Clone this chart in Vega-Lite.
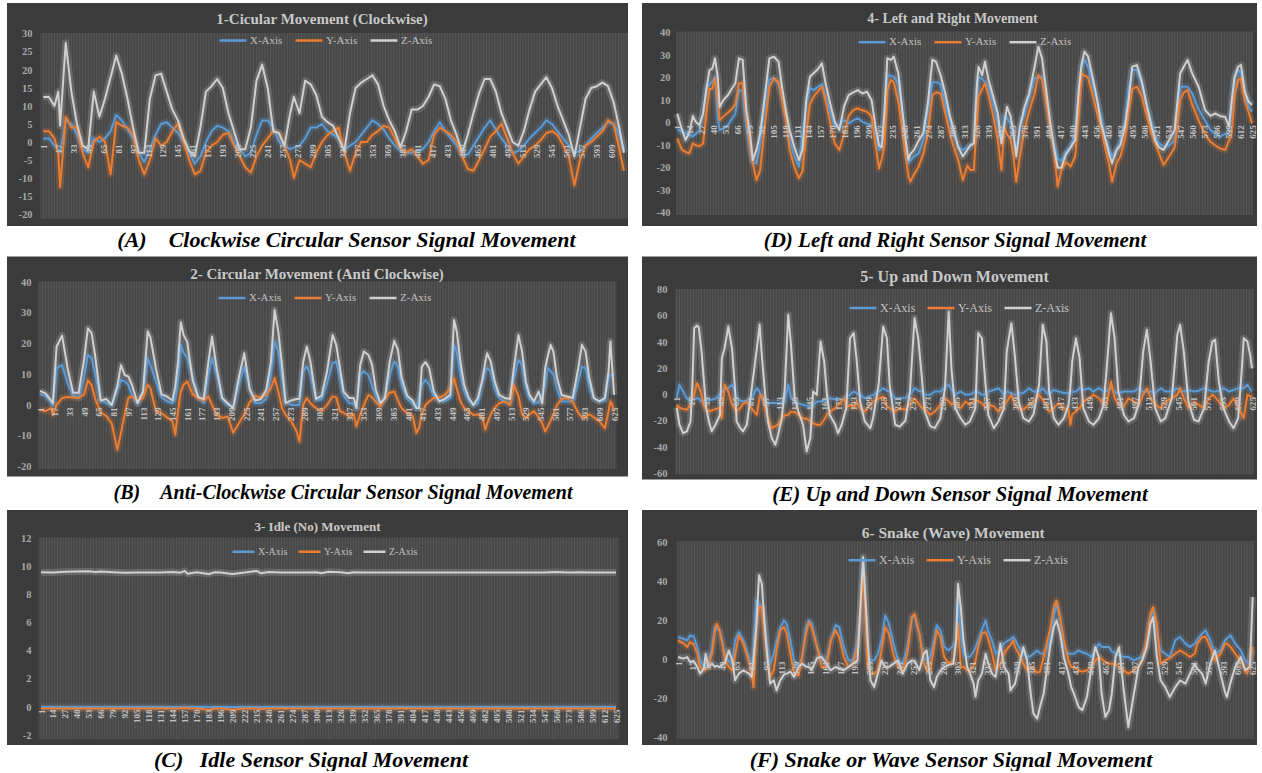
{
"$schema": "https://vega.github.io/schema/vega-lite/v6.json",
"background": "white",
"padding": {"left": 7, "top": 3, "right": 0, "bottom": 0},
"spacing": 5.5,
"resolve": {"scale": {"color": "independent"}, "legend": {"color": "independent"}},
"config": {
 "view": {"stroke": null, "fill": "#3b3b3b"},
 "font": "Liberation Serif",
 "title": {"font": "Liberation Serif", "fontSize": 21, "fontStyle": "italic", "fontWeight": "bold", "color": "#000000", "orient": "bottom", "anchor": "middle", "baseline": "top"},
 "axisX": {"labelAngle": 270, "labelFont": "Liberation Serif", "labelFontSize": 9, "labelFontWeight": "bold", "labelColor": "#c4c4c4", "labelPadding": 2, "labelFlush": false, "labelBound": false, "ticks": false, "domain": false, "grid": false, "titleFont": "Liberation Serif", "titleFontWeight": "bold", "titleColor": "#c8c8c8", "titleAlign": "center", "titleBaseline": "middle", "titleFontSize": 15},
 "axisY": {"labelFont": "Liberation Serif", "labelFontSize": 10.5, "labelFontWeight": "bold", "labelColor": "#a8a8a8", "labelPadding": 4, "ticks": false, "domain": false, "grid": false, "labelExpr": "toString(datum.value)"},
 "legend": {"orient": "none", "direction": "horizontal", "symbolType": "stroke", "symbolSize": 729, "symbolStrokeWidth": 2.5, "symbolOpacity": 1, "labelFont": "Liberation Serif", "labelFontSize": 11, "labelColor": "#c0c0c0", "labelOffset": 2, "columnPadding": 7}
},
"datasets": {
"grid": [{"t":1},{"t":4},{"t":7},{"t":10},{"t":13},{"t":16},{"t":19},{"t":22},{"t":25},{"t":28},{"t":31},{"t":34},{"t":37},{"t":40},{"t":43},{"t":46},{"t":49},{"t":52},{"t":55},{"t":58},{"t":61},{"t":64},{"t":67},{"t":70},{"t":73},{"t":76},{"t":79},{"t":82},{"t":85},{"t":88},{"t":91},{"t":94},{"t":97},{"t":100},{"t":103},{"t":106},{"t":109},{"t":112},{"t":115},{"t":118},{"t":121},{"t":124},{"t":127},{"t":130},{"t":133},{"t":136},{"t":139},{"t":142},{"t":145},{"t":148},{"t":151},{"t":154},{"t":157},{"t":160},{"t":163},{"t":166},{"t":169},{"t":172},{"t":175},{"t":178},{"t":181},{"t":184},{"t":187},{"t":190},{"t":193},{"t":196},{"t":199},{"t":202},{"t":205},{"t":208},{"t":211},{"t":214},{"t":217},{"t":220},{"t":223},{"t":226},{"t":229},{"t":232},{"t":235},{"t":238},{"t":241},{"t":244},{"t":247},{"t":250},{"t":253},{"t":256},{"t":259},{"t":262},{"t":265},{"t":268},{"t":271},{"t":274},{"t":277},{"t":280},{"t":283},{"t":286},{"t":289},{"t":292},{"t":295},{"t":298},{"t":301},{"t":304},{"t":307},{"t":310},{"t":313},{"t":316},{"t":319},{"t":322},{"t":325},{"t":328},{"t":331},{"t":334},{"t":337},{"t":340},{"t":343},{"t":346},{"t":349},{"t":352},{"t":355},{"t":358},{"t":361},{"t":364},{"t":367},{"t":370},{"t":373},{"t":376},{"t":379},{"t":382},{"t":385},{"t":388},{"t":391},{"t":394},{"t":397},{"t":400},{"t":403},{"t":406},{"t":409},{"t":412},{"t":415},{"t":418},{"t":421},{"t":424},{"t":427},{"t":430},{"t":433},{"t":436},{"t":439},{"t":442},{"t":445},{"t":448},{"t":451},{"t":454},{"t":457},{"t":460},{"t":463},{"t":466},{"t":469},{"t":472},{"t":475},{"t":478},{"t":481},{"t":484},{"t":487},{"t":490},{"t":493},{"t":496},{"t":499},{"t":502},{"t":505},{"t":508},{"t":511},{"t":514},{"t":517},{"t":520},{"t":523},{"t":526},{"t":529},{"t":532},{"t":535},{"t":538},{"t":541},{"t":544},{"t":547},{"t":550},{"t":553},{"t":556},{"t":559},{"t":562},{"t":565},{"t":568},{"t":571},{"t":574},{"t":577},{"t":580},{"t":583},{"t":586},{"t":589},{"t":592},{"t":595},{"t":598},{"t":601},{"t":604},{"t":607},{"t":610},{"t":613},{"t":616},{"t":619},{"t":622},{"t":625}],
"A": [{"t":1,"X":1,"Y":3,"Z":12.5},{"t":7,"X":1,"Y":3,"Z":12.5},{"t":13,"X":-1,"Y":1,"Z":10},{"t":17,"X":-2,"Y":-3,"Z":14},{"t":19,"X":-3,"Y":-12.5,"Z":4.5},{"t":25,"X":6,"Y":7,"Z":27.5},{"t":31,"X":5,"Y":4,"Z":14},{"t":37,"X":2,"Y":4,"Z":5},{"t":43,"X":-2,"Y":-3,"Z":-1},{"t":49,"X":-3,"Y":-7,"Z":-2},{"t":55,"X":1,"Y":0,"Z":14},{"t":61,"X":0,"Y":1.5,"Z":7},{"t":67,"X":1,"Y":0,"Z":12},{"t":73,"X":3,"Y":-9,"Z":18},{"t":79,"X":7.5,"Y":5.5,"Z":24},{"t":85,"X":6,"Y":4.5,"Z":19},{"t":91,"X":3.5,"Y":4,"Z":12},{"t":97,"X":1,"Y":2,"Z":4},{"t":103,"X":-3,"Y":-5,"Z":-3},{"t":109,"X":-5.5,"Y":-9,"Z":-3},{"t":115,"X":-2,"Y":-5,"Z":12},{"t":121,"X":2,"Y":1,"Z":18.5},{"t":127,"X":5,"Y":-1,"Z":19},{"t":133,"X":5.5,"Y":0,"Z":14},{"t":139,"X":4,"Y":3,"Z":9},{"t":145,"X":2.5,"Y":5,"Z":6},{"t":151,"X":0,"Y":0,"Z":1},{"t":157,"X":-3,"Y":-5,"Z":-2.5},{"t":163,"X":-6,"Y":-9,"Z":-4},{"t":169,"X":-4,"Y":-8,"Z":4},{"t":175,"X":0,"Y":-3,"Z":14},{"t":181,"X":3,"Y":-1,"Z":15.5},{"t":187,"X":4.5,"Y":0,"Z":17.5},{"t":193,"X":4,"Y":2,"Z":15},{"t":199,"X":3,"Y":2.5,"Z":8},{"t":205,"X":0,"Y":-1,"Z":3},{"t":211,"X":-2,"Y":-4,"Z":-2},{"t":217,"X":-4,"Y":-7,"Z":-2},{"t":223,"X":-3,"Y":-8.5,"Z":4},{"t":229,"X":2,"Y":-4,"Z":17},{"t":235,"X":6,"Y":-1,"Z":21.5},{"t":241,"X":6,"Y":1,"Z":15},{"t":247,"X":4,"Y":3,"Z":3},{"t":253,"X":0,"Y":2.5,"Z":2.5},{"t":259,"X":-1,"Y":-1,"Z":-1},{"t":265,"X":-2,"Y":-5,"Z":8},{"t":269,"X":-1.5,"Y":-10,"Z":12.5},{"t":275,"X":-1,"Y":-5,"Z":8},{"t":281,"X":1,"Y":-6,"Z":17},{"t":287,"X":4,"Y":-7,"Z":16},{"t":293,"X":4,"Y":-3,"Z":13},{"t":299,"X":5,"Y":0,"Z":7},{"t":305,"X":3,"Y":2,"Z":5.5},{"t":311,"X":2,"Y":3,"Z":4.5},{"t":317,"X":1,"Y":4,"Z":1},{"t":323,"X":-2,"Y":-3,"Z":-2.5},{"t":329,"X":-1,"Y":-8,"Z":8},{"t":335,"X":0,"Y":-3,"Z":15},{"t":341,"X":2,"Y":0,"Z":16.5},{"t":347,"X":4,"Y":0,"Z":17.5},{"t":353,"X":6,"Y":2,"Z":18.5},{"t":359,"X":5,"Y":3,"Z":16},{"t":365,"X":3.5,"Y":4.5,"Z":10},{"t":371,"X":1,"Y":4,"Z":6},{"t":377,"X":-1,"Y":1,"Z":3},{"t":383,"X":-2.5,"Y":-2,"Z":-1.5},{"t":389,"X":-3,"Y":-3,"Z":3},{"t":395,"X":-3,"Y":-2,"Z":9},{"t":401,"X":-2.5,"Y":-4,"Z":9},{"t":407,"X":-2,"Y":-6,"Z":10},{"t":413,"X":0,"Y":-5,"Z":12.5},{"t":419,"X":3,"Y":2,"Z":16},{"t":425,"X":5.5,"Y":4,"Z":15.5},{"t":431,"X":3,"Y":3,"Z":12},{"t":437,"X":1,"Y":2,"Z":6},{"t":443,"X":-1,"Y":0,"Z":2},{"t":449,"X":-3.5,"Y":-4,"Z":-3},{"t":455,"X":-3.5,"Y":-7.5,"Z":2},{"t":461,"X":-1,"Y":-8,"Z":8},{"t":467,"X":1.5,"Y":-5,"Z":13.5},{"t":473,"X":4,"Y":-2,"Z":17.5},{"t":479,"X":6,"Y":1.5,"Z":17.5},{"t":485,"X":3.5,"Y":3,"Z":14},{"t":491,"X":1,"Y":5,"Z":8},{"t":497,"X":-1,"Y":1,"Z":4},{"t":503,"X":-3,"Y":-3,"Z":0},{"t":509,"X":-2.5,"Y":-6,"Z":-1},{"t":515,"X":-1,"Y":-4,"Z":3},{"t":521,"X":1,"Y":-2,"Z":9},{"t":527,"X":2.5,"Y":-1,"Z":14},{"t":533,"X":4,"Y":0.5,"Z":16},{"t":539,"X":6,"Y":2.5,"Z":18},{"t":545,"X":5,"Y":3,"Z":15},{"t":551,"X":3,"Y":2,"Z":10},{"t":557,"X":1,"Y":-1,"Z":6},{"t":563,"X":-1,"Y":-4,"Z":2},{"t":569,"X":-3,"Y":-12,"Z":-4},{"t":575,"X":-2.5,"Y":-5,"Z":4},{"t":581,"X":-1,"Y":-1,"Z":12},{"t":587,"X":1,"Y":0,"Z":15},{"t":593,"X":2.5,"Y":1.5,"Z":15.5},{"t":599,"X":4,"Y":3,"Z":16.5},{"t":605,"X":5.5,"Y":6,"Z":15.5},{"t":611,"X":5,"Y":5,"Z":11},{"t":617,"X":2,"Y":-2,"Z":4},{"t":622,"X":-2,"Y":-8,"Z":-3}],
"B": [{"t":1,"X":3.5,"Y":-1.5,"Z":4.6},{"t":7,"X":3,"Y":-2,"Z":3.8},{"t":13,"X":1,"Y":-1,"Z":1.5},{"t":15,"X":0,"Y":-3.2,"Z":0.6},{"t":19,"X":12,"Y":0,"Z":19},{"t":25,"X":13,"Y":2.3,"Z":22.6},{"t":31,"X":7,"Y":2.6,"Z":12},{"t":37,"X":3,"Y":2.5,"Z":4},{"t":43,"X":2.3,"Y":2.3,"Z":4},{"t":49,"X":9,"Y":3.5,"Z":15},{"t":53,"X":16.3,"Y":8,"Z":25},{"t":57,"X":15.3,"Y":6.6,"Z":23.5},{"t":61,"X":10,"Y":2,"Z":16},{"t":67,"X":1.5,"Y":-2.5,"Z":1.5},{"t":73,"X":0.6,"Y":-3.5,"Z":2},{"t":79,"X":0,"Y":-6,"Z":0},{"t":85,"X":5,"Y":-14.6,"Z":6},{"t":89,"X":8.2,"Y":-9,"Z":13},{"t":93,"X":7.7,"Y":-3,"Z":9.8},{"t":97,"X":6.5,"Y":2.3,"Z":9.3},{"t":101,"X":3,"Y":2.8,"Z":6.6},{"t":107,"X":0.5,"Y":1.5,"Z":0.6},{"t":113,"X":4,"Y":2.3,"Z":4.4},{"t":118,"X":15.3,"Y":6.6,"Z":24},{"t":121,"X":13,"Y":5.5,"Z":22},{"t":127,"X":7.7,"Y":-2,"Z":12},{"t":133,"X":2.5,"Y":-2.6,"Z":3.5},{"t":139,"X":1.2,"Y":-4,"Z":2.8},{"t":145,"X":0.5,"Y":-5.3,"Z":1.5},{"t":148,"X":2,"Y":-9.7,"Z":6},{"t":151,"X":8,"Y":-2,"Z":14},{"t":154,"X":19.6,"Y":4.4,"Z":27},{"t":157,"X":17,"Y":6.6,"Z":22.8},{"t":161,"X":15.3,"Y":7.7,"Z":20.6},{"t":167,"X":9,"Y":3.5,"Z":8},{"t":173,"X":3,"Y":2.3,"Z":2.5},{"t":179,"X":0.6,"Y":1.5,"Z":2},{"t":184,"X":9.8,"Y":2.8,"Z":14},{"t":188,"X":15.3,"Y":0,"Z":22.3},{"t":193,"X":10,"Y":-3.2,"Z":12},{"t":199,"X":2,"Y":-4.2,"Z":2.3},{"t":205,"X":0,"Y":-3.7,"Z":0.6},{"t":211,"X":-0.5,"Y":-9,"Z":-1},{"t":217,"X":6.6,"Y":-6,"Z":8.8},{"t":223,"X":12.5,"Y":-3,"Z":16.9},{"t":229,"X":5.5,"Y":1,"Z":5},{"t":235,"X":0.6,"Y":3,"Z":1.5},{"t":241,"X":0.6,"Y":2.5,"Z":2},{"t":247,"X":2,"Y":3.3,"Z":5},{"t":252,"X":9.8,"Y":5.5,"Z":14},{"t":256,"X":20.7,"Y":8.8,"Z":31},{"t":260,"X":17.4,"Y":4.4,"Z":24},{"t":264,"X":8.8,"Y":-1,"Z":13},{"t":268,"X":1.2,"Y":-3.2,"Z":0.6},{"t":274,"X":0,"Y":-5.3,"Z":1.5},{"t":280,"X":0,"Y":-8.6,"Z":2},{"t":283,"X":0,"Y":-11.9,"Z":2},{"t":287,"X":11,"Y":0,"Z":14},{"t":291,"X":12.5,"Y":2.3,"Z":19},{"t":295,"X":9.8,"Y":0.6,"Z":14},{"t":301,"X":1.7,"Y":-1,"Z":2},{"t":307,"X":1.7,"Y":-2,"Z":3},{"t":313,"X":7,"Y":0,"Z":11},{"t":319,"X":13.6,"Y":2.8,"Z":22.8},{"t":323,"X":14.2,"Y":2.5,"Z":19.6},{"t":327,"X":9,"Y":-2,"Z":12},{"t":331,"X":3,"Y":-2.5,"Z":4.4},{"t":337,"X":0.6,"Y":-3.7,"Z":2.3},{"t":342,"X":0.5,"Y":-3,"Z":2.3},{"t":345,"X":-1,"Y":-7,"Z":-1},{"t":349,"X":9.8,"Y":-3,"Z":13},{"t":353,"X":11,"Y":0,"Z":17.4},{"t":358,"X":9.8,"Y":3.3,"Z":16.3},{"t":362,"X":6,"Y":2.5,"Z":13},{"t":366,"X":3,"Y":1,"Z":5},{"t":371,"X":0,"Y":-0.5,"Z":0.6},{"t":376,"X":3,"Y":2.3,"Z":2.3},{"t":381,"X":9.8,"Y":4,"Z":14},{"t":386,"X":14.2,"Y":4.4,"Z":20.9},{"t":390,"X":12.5,"Y":1.5,"Z":18},{"t":394,"X":6.6,"Y":-1,"Z":9},{"t":400,"X":2,"Y":-2.6,"Z":3},{"t":406,"X":0.5,"Y":-3.5,"Z":1.5},{"t":410,"X":-1,"Y":-9.1,"Z":-1},{"t":413,"X":3,"Y":-7.5,"Z":-1},{"t":416,"X":6.6,"Y":-3,"Z":12.5},{"t":420,"X":8.2,"Y":0,"Z":14},{"t":424,"X":6.6,"Y":1.2,"Z":12},{"t":429,"X":3,"Y":2.3,"Z":4.4},{"t":435,"X":1.5,"Y":2.5,"Z":1.2},{"t":441,"X":1.2,"Y":3.3,"Z":2},{"t":447,"X":2.3,"Y":5.5,"Z":3.3},{"t":451,"X":19.6,"Y":8.8,"Z":27.7},{"t":454,"X":17.4,"Y":5.5,"Z":24},{"t":458,"X":9.8,"Y":1.2,"Z":14},{"t":462,"X":4.5,"Y":-1,"Z":6.6},{"t":467,"X":1.5,"Y":-2,"Z":2.3},{"t":472,"X":0,"Y":-3.2,"Z":0},{"t":477,"X":0.6,"Y":-3,"Z":2.3},{"t":482,"X":7.7,"Y":-4.2,"Z":8.5},{"t":485,"X":11,"Y":-8,"Z":14},{"t":487,"X":12,"Y":-6,"Z":16.9},{"t":491,"X":11,"Y":-3,"Z":14},{"t":495,"X":5.5,"Y":-1,"Z":8},{"t":500,"X":2.3,"Y":0.6,"Z":3.3},{"t":506,"X":1,"Y":1.2,"Z":2.3},{"t":512,"X":0.6,"Y":0,"Z":2},{"t":516,"X":8.8,"Y":6.6,"Z":12},{"t":521,"X":14.7,"Y":3,"Z":22.8},{"t":525,"X":13,"Y":-3,"Z":17.4},{"t":529,"X":6,"Y":-4.2,"Z":7.7},{"t":533,"X":2,"Y":-3,"Z":3.3},{"t":538,"X":0.6,"Y":-2,"Z":1.2},{"t":543,"X":0.8,"Y":-4,"Z":4.4},{"t":547,"X":4,"Y":-6,"Z":0.5},{"t":550,"X":6.6,"Y":-8.6,"Z":12},{"t":553,"X":12,"Y":-7,"Z":16},{"t":556,"X":11,"Y":-5,"Z":19.6},{"t":559,"X":10,"Y":-3,"Z":17.4},{"t":563,"X":5,"Y":0,"Z":8.8},{"t":568,"X":1.2,"Y":2,"Z":3.3},{"t":574,"X":1.2,"Y":2.3,"Z":2.8},{"t":580,"X":1.2,"Y":1,"Z":2.3},{"t":586,"X":7.7,"Y":-2.5,"Z":12},{"t":590,"X":12.5,"Y":-4,"Z":19.6},{"t":594,"X":12,"Y":-4,"Z":17.4},{"t":598,"X":6,"Y":-3,"Z":8.8},{"t":603,"X":2,"Y":-4,"Z":2.3},{"t":609,"X":1.2,"Y":-5.3,"Z":1.2},{"t":615,"X":1.5,"Y":-7.5,"Z":2.3},{"t":619,"X":8.8,"Y":-2,"Z":11},{"t":621,"X":9.8,"Y":1.2,"Z":20.7},{"t":623,"X":9.8,"Y":0,"Z":12},{"t":625,"X":9.5,"Y":-2,"Z":3.3}],
"C": [{"t":1,"X":0,"Y":-0.1,"Z":9.62},{"t":14,"X":0,"Y":-0.1,"Z":9.6},{"t":27,"X":0,"Y":-0.1,"Z":9.66},{"t":40,"X":0,"Y":-0.1,"Z":9.68},{"t":53,"X":0,"Y":-0.1,"Z":9.7},{"t":60,"X":0,"Y":-0.1,"Z":9.64},{"t":66,"X":0,"Y":-0.1,"Z":9.67},{"t":79,"X":0,"Y":-0.1,"Z":9.62},{"t":92,"X":0,"Y":-0.1,"Z":9.58},{"t":105,"X":0,"Y":-0.1,"Z":9.6},{"t":118,"X":0,"Y":-0.1,"Z":9.6},{"t":131,"X":0,"Y":-0.1,"Z":9.6},{"t":144,"X":0,"Y":-0.1,"Z":9.64},{"t":152,"X":0,"Y":-0.1,"Z":9.58},{"t":157,"X":0,"Y":-0.05,"Z":9.72},{"t":160,"X":0,"Y":-0.1,"Z":9.52},{"t":170,"X":0,"Y":-0.1,"Z":9.62},{"t":183,"X":0,"Y":-0.2,"Z":9.5},{"t":190,"X":0,"Y":-0.1,"Z":9.62},{"t":196,"X":0,"Y":-0.1,"Z":9.6},{"t":209,"X":0,"Y":-0.2,"Z":9.5},{"t":222,"X":0,"Y":-0.1,"Z":9.6},{"t":235,"X":0,"Y":-0.1,"Z":9.72},{"t":240,"X":0,"Y":-0.15,"Z":9.55},{"t":248,"X":0,"Y":-0.1,"Z":9.64},{"t":261,"X":0,"Y":-0.1,"Z":9.6},{"t":274,"X":0,"Y":-0.1,"Z":9.6},{"t":287,"X":0,"Y":-0.1,"Z":9.6},{"t":300,"X":0,"Y":-0.1,"Z":9.62},{"t":305,"X":0,"Y":-0.1,"Z":9.55},{"t":313,"X":0,"Y":-0.1,"Z":9.66},{"t":326,"X":0,"Y":-0.1,"Z":9.62},{"t":335,"X":0,"Y":-0.1,"Z":9.55},{"t":339,"X":0,"Y":-0.1,"Z":9.62},{"t":352,"X":0,"Y":-0.1,"Z":9.6},{"t":365,"X":0,"Y":-0.1,"Z":9.6},{"t":391,"X":0,"Y":-0.1,"Z":9.6},{"t":430,"X":0,"Y":-0.1,"Z":9.6},{"t":469,"X":0,"Y":-0.1,"Z":9.6},{"t":508,"X":0,"Y":-0.1,"Z":9.6},{"t":547,"X":0,"Y":-0.1,"Z":9.6},{"t":560,"X":0,"Y":-0.1,"Z":9.64},{"t":573,"X":0,"Y":-0.1,"Z":9.6},{"t":586,"X":0,"Y":-0.1,"Z":9.62},{"t":599,"X":0,"Y":-0.1,"Z":9.6},{"t":625,"X":0,"Y":-0.1,"Z":9.6}],
"D": [{"t":1,"X":-3,"Y":-7,"Z":4},{"t":6,"X":-4,"Y":-12,"Z":-3},{"t":10,"X":-4.7,"Y":-13,"Z":-7.7},{"t":14,"X":-5.5,"Y":-13.6,"Z":-4.5},{"t":18,"X":-6,"Y":-9.2,"Z":3},{"t":21,"X":-5,"Y":-10,"Z":0.4},{"t":25,"X":-3.3,"Y":-10.5,"Z":-1},{"t":29,"X":5,"Y":-9.2,"Z":4},{"t":33,"X":16,"Y":5.6,"Z":16},{"t":36,"X":17,"Y":15,"Z":23.4},{"t":39,"X":18.2,"Y":15,"Z":24},{"t":42,"X":20.4,"Y":19.7,"Z":28.6},{"t":45,"X":2,"Y":10,"Z":20},{"t":47,"X":-3.3,"Y":1.2,"Z":7},{"t":51,"X":-2.5,"Y":2.7,"Z":10},{"t":56,"X":-1,"Y":4.5,"Z":12.3},{"t":60,"X":1.5,"Y":6,"Z":15},{"t":64,"X":4,"Y":8,"Z":17.5},{"t":68,"X":14.5,"Y":17.5,"Z":28.6},{"t":72,"X":14,"Y":17.5,"Z":27.9},{"t":76,"X":-1.8,"Y":2.7,"Z":5.6},{"t":80,"X":-12,"Y":-10,"Z":-5},{"t":83,"X":-18,"Y":-18,"Z":-16.6},{"t":87,"X":-18,"Y":-25.5,"Z":-12.1},{"t":91,"X":-9.2,"Y":-21,"Z":-4.7},{"t":96,"X":7.1,"Y":-1.8,"Z":11.6},{"t":101,"X":19,"Y":16,"Z":28.6},{"t":106,"X":20,"Y":19.7,"Z":29.3},{"t":111,"X":17,"Y":18,"Z":27},{"t":115,"X":10,"Y":10,"Z":15},{"t":119,"X":2,"Y":1,"Z":5},{"t":123,"X":-7.7,"Y":-12.1,"Z":-3.3},{"t":128,"X":-15,"Y":-19.5,"Z":-10.7},{"t":133,"X":-19.5,"Y":-24.7,"Z":-16.6},{"t":137,"X":-5,"Y":-21.5,"Z":-12},{"t":141,"X":8,"Y":-5,"Z":10},{"t":145,"X":15.5,"Y":8,"Z":20.4},{"t":149,"X":14.5,"Y":11.6,"Z":22},{"t":154,"X":16,"Y":14,"Z":24},{"t":158,"X":17,"Y":16,"Z":26.4},{"t":162,"X":11.6,"Y":10,"Z":17.5},{"t":167,"X":5,"Y":-0.3,"Z":8.6},{"t":172,"X":-1.8,"Y":-9.2,"Z":0.4},{"t":177,"X":-1,"Y":-12.1,"Z":-3.3},{"t":182,"X":1.2,"Y":-5,"Z":7.1},{"t":187,"X":-0.3,"Y":3,"Z":12.3},{"t":192,"X":1,"Y":5.6,"Z":13.5},{"t":197,"X":1.9,"Y":6.4,"Z":14.5},{"t":202,"X":0.4,"Y":5.5,"Z":13},{"t":207,"X":-0.5,"Y":4.9,"Z":13.8},{"t":212,"X":-1,"Y":2.7,"Z":10},{"t":216,"X":-3,"Y":-9.2,"Z":-1},{"t":220,"X":-12.1,"Y":-20.3,"Z":-10},{"t":223,"X":-8,"Y":-16,"Z":-11},{"t":226,"X":5,"Y":-10,"Z":5},{"t":229,"X":21.2,"Y":14.5,"Z":28.6},{"t":233,"X":20.8,"Y":19,"Z":27.9},{"t":236,"X":20.4,"Y":18,"Z":29.3},{"t":241,"X":17.5,"Y":9,"Z":21.9},{"t":246,"X":2.7,"Y":-5,"Z":3},{"t":249,"X":-10,"Y":-15,"Z":-8},{"t":252,"X":-18,"Y":-24,"Z":-16.6},{"t":254,"X":-17,"Y":-26.2,"Z":-14},{"t":258,"X":-15,"Y":-23,"Z":-12.1},{"t":263,"X":-13.6,"Y":-19.5,"Z":-8},{"t":268,"X":-8,"Y":-14,"Z":-4.7},{"t":273,"X":5,"Y":-5,"Z":8.6},{"t":278,"X":18,"Y":12.3,"Z":28},{"t":282,"X":18,"Y":13.5,"Z":27},{"t":287,"X":17,"Y":13,"Z":21},{"t":292,"X":8,"Y":4,"Z":13},{"t":297,"X":1,"Y":-5,"Z":3},{"t":301,"X":-5,"Y":-10.7,"Z":-3},{"t":306,"X":-10.7,"Y":-16.6,"Z":-10.7},{"t":311,"X":-12.1,"Y":-25.5,"Z":-15},{"t":316,"X":-11,"Y":-19,"Z":-12},{"t":319,"X":-10.7,"Y":-21,"Z":-10},{"t":323,"X":-9,"Y":-21,"Z":-9.2},{"t":326,"X":10,"Y":0,"Z":15},{"t":328,"X":20.4,"Y":11.6,"Z":24.9},{"t":332,"X":19.5,"Y":15,"Z":21.2},{"t":335,"X":18,"Y":17.5,"Z":27.1},{"t":339,"X":16,"Y":12,"Z":19},{"t":344,"X":8,"Y":3,"Z":11.6},{"t":349,"X":0,"Y":-8,"Z":4.1},{"t":353,"X":-7.7,"Y":-21,"Z":-9.2},{"t":356,"X":3,"Y":-2,"Z":-1},{"t":359,"X":2,"Y":-5,"Z":7.1},{"t":363,"X":-0.3,"Y":-7.7,"Z":2.7},{"t":366,"X":-6,"Y":-15,"Z":-4.7},{"t":369,"X":-12.1,"Y":-26.2,"Z":-15},{"t":373,"X":-2,"Y":-15,"Z":-1.8},{"t":378,"X":4,"Y":-3,"Z":7},{"t":383,"X":11.6,"Y":5,"Z":13},{"t":389,"X":19.7,"Y":13,"Z":25},{"t":393,"X":20.2,"Y":21.2,"Z":33.8},{"t":397,"X":20.4,"Y":19,"Z":28.6},{"t":401,"X":11.6,"Y":10,"Z":16},{"t":406,"X":-1,"Y":-3,"Z":-0.3},{"t":410,"X":-9,"Y":-12,"Z":-11},{"t":414,"X":-16,"Y":-28.4,"Z":-20},{"t":418,"X":-17,"Y":-21,"Z":-20},{"t":423,"X":-13,"Y":-17.5,"Z":-14},{"t":428,"X":-10.7,"Y":-19.5,"Z":-11},{"t":433,"X":-4.7,"Y":-15,"Z":-7.7},{"t":437,"X":15,"Y":5,"Z":15},{"t":440,"X":24.9,"Y":21.9,"Z":26},{"t":443,"X":28,"Y":21,"Z":31.6},{"t":447,"X":24.9,"Y":20,"Z":29.5},{"t":452,"X":17,"Y":12,"Z":20},{"t":457,"X":9,"Y":4,"Z":10},{"t":461,"X":2.7,"Y":-1.8,"Z":0},{"t":466,"X":-7,"Y":-12,"Z":-7.7},{"t":470,"X":-12,"Y":-19,"Z":-14},{"t":473,"X":-15,"Y":-26.2,"Z":-18},{"t":478,"X":-12,"Y":-18,"Z":-12.1},{"t":482,"X":-8,"Y":-15,"Z":-10},{"t":487,"X":-0.3,"Y":-7.7,"Z":-2},{"t":491,"X":15,"Y":5,"Z":10},{"t":495,"X":23.4,"Y":15,"Z":24.9},{"t":500,"X":23.4,"Y":16,"Z":25.6},{"t":505,"X":17.5,"Y":12,"Z":19},{"t":510,"X":9,"Y":4.1,"Z":9},{"t":516,"X":0,"Y":-5,"Z":-1.8},{"t":520,"X":-6.2,"Y":-9,"Z":-8},{"t":524,"X":-9,"Y":-13.6,"Z":-11},{"t":529,"X":-10.7,"Y":-18.8,"Z":-12.1},{"t":535,"X":-10,"Y":-15,"Z":-7.7},{"t":541,"X":-8,"Y":-11,"Z":-3.3},{"t":547,"X":16,"Y":10,"Z":21.9},{"t":551,"X":16,"Y":13.5,"Z":25},{"t":555,"X":16,"Y":14.5,"Z":27.9},{"t":560,"X":13,"Y":8,"Z":21.9},{"t":567,"X":6,"Y":1,"Z":16},{"t":574,"X":1,"Y":-5,"Z":5.6},{"t":580,"X":-3.3,"Y":-8.5,"Z":3},{"t":585,"X":-5,"Y":-10,"Z":4.1},{"t":590,"X":-6.2,"Y":-11.4,"Z":3},{"t":596,"X":-5,"Y":-12.1,"Z":2.5},{"t":600,"X":-5,"Y":-8,"Z":-1.8},{"t":603,"X":5,"Y":-4.7,"Z":10},{"t":606,"X":19,"Y":12,"Z":20.4},{"t":610,"X":23.4,"Y":19,"Z":24.9},{"t":613,"X":22,"Y":19.7,"Z":25.6},{"t":617,"X":14,"Y":10,"Z":14},{"t":621,"X":7.1,"Y":5,"Z":9.5},{"t":625,"X":4.9,"Y":-0.3,"Z":7.9}],
"E": [{"t":1,"X":-2.8,"Y":-7.8,"Z":-10},{"t":4,"X":7.5,"Y":-10,"Z":-23},{"t":8,"X":2.4,"Y":-11,"Z":-29.4},{"t":12,"X":-2.8,"Y":-11.5,"Z":-28},{"t":16,"X":-5.3,"Y":-7.8,"Z":-20.5},{"t":18,"X":-4.5,"Y":-3,"Z":7.5},{"t":20,"X":-3.5,"Y":-0.2,"Z":50.7},{"t":23,"X":-2.8,"Y":8.7,"Z":52.7},{"t":25,"X":-3,"Y":6,"Z":51.2},{"t":28,"X":-5.3,"Y":0,"Z":33},{"t":30,"X":-5,"Y":-7.8,"Z":15},{"t":33,"X":-4.5,"Y":-11,"Z":-10.3},{"t":36,"X":-4,"Y":-12.9,"Z":-20.5},{"t":39,"X":-4,"Y":-12,"Z":-28},{"t":43,"X":-3,"Y":-11,"Z":-23},{"t":48,"X":0,"Y":-10.3,"Z":-15.4},{"t":50,"X":2.4,"Y":-18,"Z":28},{"t":53,"X":4,"Y":7.5,"Z":35.4},{"t":57,"X":5,"Y":2.4,"Z":52},{"t":61,"X":7.5,"Y":-7.8,"Z":35.4},{"t":64,"X":3,"Y":-11,"Z":7.5},{"t":66,"X":-2.8,"Y":-12.9,"Z":-20.5},{"t":70,"X":-4.5,"Y":-10.3,"Z":-25.6},{"t":73,"X":-5.3,"Y":-7,"Z":-28},{"t":77,"X":-4.5,"Y":-5.3,"Z":-23},{"t":82,"X":-3,"Y":-10.3,"Z":2.4},{"t":88,"X":4.9,"Y":-15.4,"Z":35.4},{"t":91,"X":2,"Y":-2,"Z":53.5},{"t":93,"X":-2.8,"Y":-0.2,"Z":33},{"t":97,"X":-5,"Y":-10.3,"Z":-0.2},{"t":100,"X":-6.5,"Y":-18,"Z":-20.5},{"t":104,"X":-6.5,"Y":-25.6,"Z":-33},{"t":108,"X":-6.5,"Y":-24,"Z":-38.3},{"t":111,"X":-6.5,"Y":-23,"Z":-30.8},{"t":115,"X":-6,"Y":-18,"Z":-18},{"t":118,"X":-5.3,"Y":-16,"Z":2.4},{"t":122,"X":7.5,"Y":-15.4,"Z":61},{"t":125,"X":-2.8,"Y":-13,"Z":38},{"t":129,"X":-5,"Y":-13.5,"Z":-2.8},{"t":133,"X":-6.5,"Y":-15.4,"Z":-12.9},{"t":138,"X":-7.8,"Y":-18,"Z":-23},{"t":142,"X":-8.5,"Y":-18.5,"Z":-43.4},{"t":146,"X":-9.1,"Y":-20,"Z":-33},{"t":149,"X":-8,"Y":-22,"Z":2.4},{"t":153,"X":-5.3,"Y":-23,"Z":-0.2},{"t":157,"X":-5,"Y":-23,"Z":40.5},{"t":161,"X":-4.5,"Y":-19,"Z":25.3},{"t":164,"X":-4,"Y":-15.4,"Z":-0.2},{"t":167,"X":-2.8,"Y":-13,"Z":-15.4},{"t":173,"X":-3.5,"Y":-10.3,"Z":-23},{"t":176,"X":-4,"Y":-7.8,"Z":-29.4},{"t":180,"X":-3.5,"Y":-5,"Z":-23},{"t":183,"X":-2.8,"Y":-2.8,"Z":-15},{"t":185,"X":-2,"Y":-10.3,"Z":-10.3},{"t":189,"X":-0.2,"Y":-7.8,"Z":43},{"t":193,"X":2.4,"Y":-10.3,"Z":47},{"t":196,"X":1,"Y":-5.3,"Z":27.8},{"t":200,"X":-0.2,"Y":-10.3,"Z":-5.3},{"t":205,"X":-2.8,"Y":-12.9,"Z":-20.5},{"t":211,"X":-1,"Y":-7.8,"Z":-25.6},{"t":214,"X":-0.2,"Y":-5.3,"Z":-18},{"t":220,"X":2,"Y":-3,"Z":7.5},{"t":225,"X":4.9,"Y":-1.5,"Z":52},{"t":229,"X":3,"Y":-9,"Z":43},{"t":232,"X":2.4,"Y":-10.3,"Z":7.5},{"t":238,"X":-2.8,"Y":-12.9,"Z":-23},{"t":243,"X":-2.8,"Y":-10.3,"Z":-24.4},{"t":249,"X":-2.5,"Y":-11.5,"Z":-20},{"t":254,"X":-0.2,"Y":-7.8,"Z":2.4},{"t":259,"X":4.9,"Y":-2.8,"Z":58.4},{"t":263,"X":3,"Y":-6.5,"Z":43},{"t":267,"X":2.4,"Y":-10.3,"Z":12.5},{"t":270,"X":0,"Y":-10.3,"Z":-12.9},{"t":276,"X":-0.2,"Y":-15.4,"Z":-24},{"t":281,"X":2.4,"Y":-12.9,"Z":-25.6},{"t":287,"X":2.4,"Y":-7.8,"Z":-18},{"t":292,"X":6,"Y":-3,"Z":4.9},{"t":296,"X":7.5,"Y":-5,"Z":63.4},{"t":299,"X":4,"Y":-7.8,"Z":20},{"t":303,"X":-0.2,"Y":-5.3,"Z":-10.3},{"t":309,"X":2.4,"Y":-10.3,"Z":-18},{"t":314,"X":0,"Y":-5.3,"Z":-23},{"t":319,"X":0,"Y":-7.8,"Z":-20.5},{"t":325,"X":2.4,"Y":-4,"Z":-10.3},{"t":328,"X":2,"Y":-5,"Z":47},{"t":332,"X":-0.2,"Y":-6.5,"Z":43},{"t":336,"X":0,"Y":-10.3,"Z":7.5},{"t":339,"X":2.4,"Y":-7.8,"Z":-15.4},{"t":345,"X":3.5,"Y":-9,"Z":-25.6},{"t":350,"X":4.9,"Y":-12.9,"Z":-20.5},{"t":356,"X":0,"Y":-7.8,"Z":-10.3},{"t":359,"X":2.4,"Y":-5.3,"Z":33},{"t":364,"X":1,"Y":-0.2,"Z":54.5},{"t":368,"X":-0.2,"Y":-7.8,"Z":27.8},{"t":372,"X":1,"Y":-10.3,"Z":-5.3},{"t":377,"X":1.2,"Y":-11.5,"Z":-18},{"t":383,"X":4.9,"Y":-7.8,"Z":-20.5},{"t":388,"X":2.4,"Y":-5.3,"Z":-15},{"t":394,"X":2.4,"Y":-0.2,"Z":7.5},{"t":398,"X":4.9,"Y":-4,"Z":53.3},{"t":402,"X":1.2,"Y":-7.8,"Z":40.5},{"t":405,"X":0.5,"Y":-12.9,"Z":2.4},{"t":410,"X":3.5,"Y":-10.3,"Z":-18},{"t":415,"X":2.4,"Y":-6.5,"Z":-23},{"t":421,"X":1.2,"Y":-10.3,"Z":-18},{"t":426,"X":1.2,"Y":-12,"Z":-7.8},{"t":428,"X":1.2,"Y":-23,"Z":5},{"t":430,"X":2,"Y":-15,"Z":25.3},{"t":434,"X":2.4,"Y":-12.9,"Z":43},{"t":438,"X":4.9,"Y":-10.3,"Z":27.8},{"t":442,"X":3.5,"Y":-5.3,"Z":-10.3},{"t":448,"X":4.9,"Y":-2.8,"Z":-20.5},{"t":453,"X":2.4,"Y":-0.2,"Z":-23},{"t":459,"X":4.9,"Y":-2.8,"Z":-18},{"t":464,"X":2.4,"Y":-7.8,"Z":-7.8},{"t":468,"X":3,"Y":-5,"Z":25.3},{"t":472,"X":4.9,"Y":10,"Z":62.1},{"t":476,"X":2,"Y":-2.5,"Z":43},{"t":480,"X":1.2,"Y":-7.8,"Z":2.4},{"t":486,"X":2.4,"Y":-9,"Z":-15.4},{"t":491,"X":2.4,"Y":-2.8,"Z":-20.5},{"t":497,"X":2.4,"Y":-5.3,"Z":-18},{"t":502,"X":4.9,"Y":-7.8,"Z":-7.8},{"t":507,"X":2.4,"Y":-0.2,"Z":33},{"t":511,"X":2.4,"Y":4.9,"Z":49.4},{"t":515,"X":2.4,"Y":-2.8,"Z":25.3},{"t":520,"X":1.2,"Y":-7.8,"Z":-10.3},{"t":526,"X":4.9,"Y":-10.3,"Z":-20.5},{"t":531,"X":2.4,"Y":-5.3,"Z":-18},{"t":538,"X":2.4,"Y":-2.8,"Z":-2.8},{"t":544,"X":4.9,"Y":-0.2,"Z":45.6},{"t":547,"X":3,"Y":4.9,"Z":53.3},{"t":551,"X":2.4,"Y":-2.8,"Z":33},{"t":556,"X":3.5,"Y":-10.3,"Z":-5.3},{"t":562,"X":2.4,"Y":-5.3,"Z":-19.2},{"t":567,"X":3,"Y":-7.8,"Z":-20.5},{"t":573,"X":4.9,"Y":-10.3,"Z":-10.3},{"t":578,"X":3.5,"Y":-2.8,"Z":25.3},{"t":582,"X":2.4,"Y":-0.2,"Z":40.5},{"t":585,"X":2.4,"Y":-2,"Z":41.8},{"t":589,"X":3,"Y":-5.3,"Z":10},{"t":594,"X":4.9,"Y":-10.3,"Z":-10.3},{"t":600,"X":2.4,"Y":-7.8,"Z":-20.5},{"t":605,"X":3.5,"Y":-2.8,"Z":-25.6},{"t":610,"X":4.9,"Y":-10.3,"Z":-18},{"t":614,"X":5,"Y":-15,"Z":20},{"t":616,"X":4.9,"Y":-18,"Z":43},{"t":620,"X":7.5,"Y":-0.2,"Z":40.5},{"t":623,"X":4,"Y":-1,"Z":30.3},{"t":625,"X":2.4,"Y":-2.8,"Z":20}],
"F": [{"t":1,"X":11.3,"Y":9.6,"Z":1},{"t":7,"X":10.4,"Y":7.9,"Z":0.2},{"t":11,"X":9.6,"Y":6.2,"Z":1},{"t":14,"X":12.1,"Y":8.7,"Z":-1.5},{"t":18,"X":11.5,"Y":7.5,"Z":-1},{"t":22,"X":6.2,"Y":2.7,"Z":-4.1},{"t":25,"X":-0.7,"Y":-4.1,"Z":-7.5},{"t":29,"X":-4.1,"Y":-5.8,"Z":-5},{"t":31,"X":-3.5,"Y":-5.5,"Z":2.7},{"t":34,"X":-2.4,"Y":-3.5,"Z":-4.1},{"t":38,"X":6.2,"Y":3,"Z":-2.4},{"t":41,"X":16.4,"Y":14,"Z":-4},{"t":43,"X":15.5,"Y":18.1,"Z":-3.5},{"t":46,"X":14.7,"Y":14.7,"Z":-4.1},{"t":49,"X":9.6,"Y":8,"Z":-3},{"t":52,"X":1,"Y":0,"Z":-2},{"t":56,"X":-1,"Y":-4.1,"Z":4.4},{"t":60,"X":-2.4,"Y":-5.8,"Z":-0.7},{"t":63,"X":9.6,"Y":2,"Z":-10.9},{"t":67,"X":13.8,"Y":12.1,"Z":-7.5},{"t":72,"X":9.6,"Y":7.9,"Z":-5.8},{"t":78,"X":1,"Y":-1.5,"Z":-7.5},{"t":81,"X":-5.8,"Y":-8,"Z":-9.2},{"t":83,"X":5,"Y":-14.4,"Z":0},{"t":86,"X":30,"Y":14.7,"Z":16.4},{"t":89,"X":28,"Y":26.7,"Z":42.9},{"t":92,"X":26.7,"Y":26.7,"Z":38.6},{"t":95,"X":19.8,"Y":12,"Z":18.1},{"t":98,"X":6.2,"Y":2,"Z":1},{"t":101,"X":-2.4,"Y":-9.2,"Z":-12.6},{"t":105,"X":2.7,"Y":-5.8,"Z":-10.9},{"t":108,"X":9,"Y":4.4,"Z":-16.1},{"t":112,"X":16,"Y":14.7,"Z":-11},{"t":116,"X":19.8,"Y":16.4,"Z":-8},{"t":119,"X":18.1,"Y":13,"Z":-7.5},{"t":123,"X":9.6,"Y":2.7,"Z":-6.5},{"t":127,"X":-0.7,"Y":-7.5,"Z":-9.2},{"t":132,"X":-4.1,"Y":-8.4,"Z":-4},{"t":136,"X":1,"Y":2,"Z":-2.4},{"t":140,"X":16.4,"Y":13,"Z":-4},{"t":143,"X":19.8,"Y":19,"Z":-4},{"t":146,"X":18.5,"Y":16.4,"Z":-5.8},{"t":152,"X":6.2,"Y":6.2,"Z":0.5},{"t":157,"X":-0.7,"Y":-4.1,"Z":1},{"t":162,"X":-0.7,"Y":-4.1,"Z":-2.4},{"t":167,"X":9.6,"Y":9.6,"Z":-5.8},{"t":172,"X":17.3,"Y":14.7,"Z":-4.1},{"t":176,"X":16.4,"Y":11.3,"Z":-5},{"t":181,"X":6.2,"Y":1,"Z":-5.8},{"t":186,"X":-0.7,"Y":-4.1,"Z":-4.1},{"t":191,"X":-0.7,"Y":-2.4,"Z":-2.4},{"t":196,"X":9.6,"Y":6.2,"Z":-0.7},{"t":199,"X":25,"Y":20,"Z":26.7},{"t":202,"X":50.6,"Y":43.8,"Z":52.3},{"t":204,"X":26.7,"Y":28.4,"Z":35.2},{"t":207,"X":2.7,"Y":-4.1,"Z":9.6},{"t":210,"X":-0.7,"Y":-7.5,"Z":-10.9},{"t":214,"X":-0.7,"Y":-7.5,"Z":-14.4},{"t":218,"X":2.7,"Y":-5.8,"Z":-7.5},{"t":222,"X":9.6,"Y":4.4,"Z":-0.7},{"t":226,"X":22.4,"Y":16.4,"Z":-4.1},{"t":230,"X":18.1,"Y":13,"Z":-4},{"t":235,"X":7.9,"Y":2,"Z":-2.4},{"t":240,"X":-0.7,"Y":-4.1,"Z":-0.7},{"t":245,"X":-2.4,"Y":-5.8,"Z":-7.5},{"t":250,"X":6.2,"Y":2.7,"Z":-2.4},{"t":255,"X":21.5,"Y":21.5,"Z":-0.7},{"t":258,"X":21.5,"Y":23.2,"Z":-1},{"t":263,"X":13,"Y":13,"Z":-5.8},{"t":268,"X":-0.7,"Y":-2.4,"Z":2.7},{"t":271,"X":0,"Y":-5.8,"Z":4.4},{"t":275,"X":1,"Y":-5.8,"Z":-10.9},{"t":279,"X":9.6,"Y":6.2,"Z":-14.4},{"t":282,"X":17.3,"Y":14.7,"Z":-9.2},{"t":286,"X":14.7,"Y":11.3,"Z":-6},{"t":290,"X":6.2,"Y":1,"Z":-4.1},{"t":295,"X":4.4,"Y":-2.4,"Z":-3},{"t":300,"X":7,"Y":-1,"Z":-2.4},{"t":303,"X":9.6,"Y":9.6,"Z":9.6},{"t":305,"X":30,"Y":18.1,"Z":38.6},{"t":308,"X":13,"Y":-4,"Z":26.7},{"t":311,"X":2.7,"Y":-4.1,"Z":9.6},{"t":315,"X":1,"Y":-5.8,"Z":-4},{"t":318,"X":1,"Y":-5.8,"Z":-7.5},{"t":322,"X":4,"Y":-3.5,"Z":-12.6},{"t":324,"X":6,"Y":-1,"Z":-19.3},{"t":327,"X":9.6,"Y":6.2,"Z":-10.9},{"t":331,"X":15,"Y":13,"Z":-7.5},{"t":335,"X":19.8,"Y":13.8,"Z":2.7},{"t":338,"X":14,"Y":10,"Z":-2.4},{"t":342,"X":9.6,"Y":3,"Z":-7.5},{"t":346,"X":2.7,"Y":-5.8,"Z":-9.2},{"t":351,"X":5,"Y":-2.4,"Z":7.9},{"t":355,"X":8,"Y":2.7,"Z":-4.1},{"t":360,"X":9.6,"Y":6.2,"Z":-7.5},{"t":362,"X":10,"Y":7,"Z":-16.1},{"t":365,"X":11.3,"Y":9.6,"Z":-14},{"t":367,"X":10,"Y":6,"Z":-12.6},{"t":371,"X":6.2,"Y":2.7,"Z":-4.1},{"t":376,"X":2.7,"Y":-2.4,"Z":6.2},{"t":380,"X":1,"Y":-5.8,"Z":-0.7},{"t":384,"X":1.5,"Y":-4.1,"Z":-17.8},{"t":387,"X":2.7,"Y":-5,"Z":-28},{"t":391,"X":4.4,"Y":-7,"Z":-30.6},{"t":394,"X":3,"Y":-6.5,"Z":-24.6},{"t":398,"X":2.7,"Y":1,"Z":-17.8},{"t":402,"X":6.2,"Y":9.6,"Z":-4.1},{"t":405,"X":10,"Y":15,"Z":6.2},{"t":409,"X":21.5,"Y":26.7,"Z":16.4},{"t":412,"X":28.4,"Y":30,"Z":19.8},{"t":416,"X":19.8,"Y":21.5,"Z":13},{"t":420,"X":6.2,"Y":9.6,"Z":0.7},{"t":425,"X":2.7,"Y":-0.7,"Z":-7.5},{"t":428,"X":2.7,"Y":-4.1,"Z":-14.4},{"t":431,"X":2.7,"Y":-4.1,"Z":-17.8},{"t":436,"X":4.4,"Y":-5.8,"Z":-24.6},{"t":440,"X":3.5,"Y":-6.5,"Z":-26.3},{"t":445,"X":2.7,"Y":-5.8,"Z":-19.5},{"t":450,"X":1,"Y":-4.1,"Z":-4.1},{"t":454,"X":4.4,"Y":-1,"Z":6.2},{"t":458,"X":7.9,"Y":1,"Z":1},{"t":461,"X":6.2,"Y":0,"Z":-17.8},{"t":465,"X":6.2,"Y":-1.5,"Z":-29.7},{"t":469,"X":6.2,"Y":-2.4,"Z":-26.3},{"t":472,"X":4,"Y":-2.4,"Z":-17.8},{"t":476,"X":2.7,"Y":-2.4,"Z":1},{"t":480,"X":2,"Y":-4.1,"Z":6.2},{"t":485,"X":1,"Y":-5.8,"Z":-16.1},{"t":490,"X":1,"Y":-7.5,"Z":-34.9},{"t":496,"X":-0.7,"Y":-5.8,"Z":-17.8},{"t":501,"X":0.5,"Y":-4.1,"Z":-4.1},{"t":505,"X":1,"Y":-0.7,"Z":-0.7},{"t":510,"X":6.2,"Y":9.6,"Z":6.2},{"t":514,"X":21.5,"Y":23.2,"Z":18.1},{"t":517,"X":25,"Y":26.7,"Z":21.5},{"t":521,"X":13,"Y":18,"Z":1},{"t":525,"X":4.4,"Y":-2.4,"Z":-10.9},{"t":530,"X":2.7,"Y":-0.7,"Z":-14.4},{"t":535,"X":1,"Y":0.5,"Z":-19.5},{"t":541,"X":9.6,"Y":2.7,"Z":-14.4},{"t":546,"X":11.3,"Y":4.4,"Z":-11},{"t":552,"X":7.9,"Y":2.7,"Z":-12.6},{"t":557,"X":6.2,"Y":1,"Z":-7.5},{"t":562,"X":7.9,"Y":2.7,"Z":-2.4},{"t":565,"X":10,"Y":7.9,"Z":-5},{"t":570,"X":13,"Y":11.3,"Z":-7.5},{"t":574,"X":14.7,"Y":11.3,"Z":-12.6},{"t":579,"X":9.6,"Y":6.2,"Z":-2.4},{"t":584,"X":2.7,"Y":-0.7,"Z":4.4},{"t":590,"X":4.4,"Y":2.7,"Z":-7.5},{"t":595,"X":9.6,"Y":7.9,"Z":-17},{"t":597,"X":10.5,"Y":7.9,"Z":-19.5},{"t":601,"X":12.1,"Y":6.2,"Z":-12},{"t":606,"X":7.9,"Y":2.7,"Z":-4.1},{"t":612,"X":4.4,"Y":-1,"Z":1},{"t":617,"X":-0.7,"Y":-5.8,"Z":-5.8},{"t":619,"X":-1.5,"Y":-7.5,"Z":-5},{"t":622,"X":-2.4,"Y":-2,"Z":-4.1},{"t":625,"X":4.4,"Y":6.2,"Z":31.8}]
},
"vconcat": [
{"hconcat": [
 {"width": 621, "height": 223,
  "title": {"text": "(A)\u00a0\u00a0\u00a0\u00a0Clockwise Circular Sensor Signal Movement", "dx": 29, "offset": 4, "fontSize": 22},
  "layer": [
   {"data": {"values": [{}]}, "mark": {"type": "rect", "fill": "#474747"},
    "encoding": {
     "x": {"datum": -2.5, "type": "quantitative", "scale": {"domain": [-37.82, 626.35], "nice": false, "zero": false},
       "axis": {"orient": "bottom", "offset": -84, "zindex": 1, "labelOverlap": false, "tickCount": 300, "values": [1,17,33,49,65,81,97,113,129,145,161,177,193,209,225,241,257,273,289,305,321,337,353,369,385,401,417,433,449,465,481,497,513,529,545,561,577,593,609], "title": "1-Cicular Movement (Clockwise)", "titleX": 314.5, "titleY": -124}},
     "x2": {"datum": 626},
     "y": {"datum": -21.3, "type": "quantitative", "scale": {"domain": [-23.33, 38.61], "nice": false, "zero": false},
       "axis": {"orient": "left", "offset": -29, "zindex": 1, "labelOverlap": false, "tickCount": 300, "values": [-20,-15,-10,-5,0,5,10,15,20,25,30], "title": null}},
     "y2": {"datum": 30.3}}},
   {"data": {"name": "grid"}, "mark": {"type": "rule", "color": "#575757", "strokeWidth": 1},
    "encoding": {
     "x": {"field": "t", "type": "quantitative", "scale": {"domain": [-37.82, 626.35], "nice": false, "zero": false}},
     "y": {"datum": -21.3, "type": "quantitative", "scale": {"domain": [-23.33, 38.61], "nice": false, "zero": false}},
     "y2": {"datum": 30.3}}},
   {"data": {"name": "A"}, "transform": [{"fold": ["X", "Y", "Z"], "as": ["s", "v"]}],
    "mark": {"type": "line", "strokeWidth": 7, "opacity": 0.2, "strokeJoin": "round"},
    "encoding": {
     "x": {"field": "t", "type": "quantitative", "scale": {"domain": [-37.82, 626.35], "nice": false, "zero": false}},
     "y": {"field": "v", "type": "quantitative", "scale": {"domain": [-23.33, 38.61], "nice": false, "zero": false}},
     "color": {"field": "s", "type": "nominal", "scale": {"domain": ["X", "Y", "Z"], "range": ["#5b9bd5", "#ed7d31", "#d0d0d0"]}}}},
   {"data": {"name": "A"}, "transform": [{"fold": ["X", "Y", "Z"], "as": ["s", "v"]}],
    "mark": {"type": "line", "strokeWidth": 2, "strokeJoin": "round"},
    "encoding": {
     "x": {"field": "t", "type": "quantitative", "scale": {"domain": [-37.82, 626.35], "nice": false, "zero": false}},
     "y": {"field": "v", "type": "quantitative", "scale": {"domain": [-23.33, 38.61], "nice": false, "zero": false}},
     "color": {"field": "s", "type": "nominal", "scale": {"domain": ["X", "Y", "Z"], "range": ["#5b9bd5", "#ed7d31", "#d0d0d0"]},
       "legend": {"title": null, "legendX": 211, "legendY": 22.5, "labelExpr": "datum.label + '-Axis'"}}}}
  ]},
 {"width": 615, "height": 223,
  "title": {"text": "(D) Left and Right Sensor Signal Movement", "dx": 5.5, "offset": 4},
  "layer": [
   {"data": {"values": [{}]}, "mark": {"type": "rect", "fill": "#474747"},
    "encoding": {
     "x": {"datum": -0.5, "type": "quantitative", "scale": {"domain": [-37.3, 630.4], "nice": false, "zero": false},
       "axis": {"orient": "bottom", "offset": -103.3, "zindex": 1, "labelOverlap": false, "tickCount": 300, "values": [1,14,27,40,53,66,79,92,105,118,131,144,157,170,183,196,209,222,235,248,261,274,287,300,313,326,339,352,365,378,391,404,417,430,443,456,469,482,495,508,521,534,547,560,573,586,599,612,625], "title": "4- Left and Right Movement", "titleX": 310, "titleY": -104.4, "titleFontSize": 14}},
     "x2": {"datum": 626},
     "y": {"datum": -41, "type": "quantitative", "scale": {"domain": [-45.91, 53.2], "nice": false, "zero": false},
       "axis": {"orient": "left", "offset": -32, "zindex": 1, "labelOverlap": false, "tickCount": 300, "values": [-40,-30,-20,-10,0,10,20,30,40], "title": null}},
     "y2": {"datum": 40.5}}},
   {"data": {"name": "grid"}, "mark": {"type": "rule", "color": "#575757", "strokeWidth": 1},
    "encoding": {
     "x": {"field": "t", "type": "quantitative", "scale": {"domain": [-37.3, 630.4], "nice": false, "zero": false}},
     "y": {"datum": -41, "type": "quantitative", "scale": {"domain": [-45.91, 53.2], "nice": false, "zero": false}},
     "y2": {"datum": 40.5}}},
   {"data": {"name": "D"}, "transform": [{"fold": ["X", "Y", "Z"], "as": ["s", "v"]}],
    "mark": {"type": "line", "strokeWidth": 7, "opacity": 0.2, "strokeJoin": "round"},
    "encoding": {
     "x": {"field": "t", "type": "quantitative", "scale": {"domain": [-37.3, 630.4], "nice": false, "zero": false}},
     "y": {"field": "v", "type": "quantitative", "scale": {"domain": [-45.91, 53.2], "nice": false, "zero": false}},
     "color": {"field": "s", "type": "nominal", "scale": {"domain": ["X", "Y", "Z"], "range": ["#5b9bd5", "#ed7d31", "#d0d0d0"]}}}},
   {"data": {"name": "D"}, "transform": [{"fold": ["X", "Y", "Z"], "as": ["s", "v"]}],
    "mark": {"type": "line", "strokeWidth": 2, "strokeJoin": "round"},
    "encoding": {
     "x": {"field": "t", "type": "quantitative", "scale": {"domain": [-37.3, 630.4], "nice": false, "zero": false}},
     "y": {"field": "v", "type": "quantitative", "scale": {"domain": [-45.91, 53.2], "nice": false, "zero": false}},
     "color": {"field": "s", "type": "nominal", "scale": {"domain": ["X", "Y", "Z"], "range": ["#5b9bd5", "#ed7d31", "#d0d0d0"]},
       "legend": {"title": null, "legendX": 215, "legendY": 24.2, "labelExpr": "datum.label + '-Axis'"}}}}
  ]}
 ], "spacing": 14, "bounds": "flush", "resolve": {"scale": {"color": "independent"}, "legend": {"color": "independent"}}},
{"hconcat": [
 {"width": 621, "height": 220,
  "title": {"text": "(B)\u00a0\u00a0\u00a0\u00a0Anti-Clockwise Circular Sensor Signal Movement", "dx": 25.5, "offset": 6.5, "fontSize": 20},
  "layer": [
   {"data": {"values": [{}]}, "mark": {"type": "rect", "fill": "#474747"},
    "encoding": {
     "x": {"datum": -1, "type": "quantitative", "scale": {"domain": [-34.87, 640.1], "nice": false, "zero": false},
       "axis": {"orient": "bottom", "offset": -71.4, "zindex": 1, "labelOverlap": false, "tickCount": 300, "values": [1,17,33,49,65,81,97,113,129,145,161,177,193,209,225,241,257,273,289,305,321,337,353,369,385,401,417,433,449,465,481,497,513,529,545,561,577,593,609,625], "title": "2- Circular Movement (Anti Clockwise)", "titleX": 309.5, "titleY": -131.9}},
     "x2": {"datum": 628},
     "y": {"datum": -20.8, "type": "quantitative", "scale": {"domain": [-23.26, 48.37], "nice": false, "zero": false},
       "axis": {"orient": "left", "offset": -28, "zindex": 1, "labelOverlap": false, "tickCount": 300, "values": [-20,-10,0,10,20,30,40], "title": null}},
     "y2": {"datum": 40.3}}},
   {"data": {"name": "grid"}, "mark": {"type": "rule", "color": "#575757", "strokeWidth": 1},
    "encoding": {
     "x": {"field": "t", "type": "quantitative", "scale": {"domain": [-34.87, 640.1], "nice": false, "zero": false}},
     "y": {"datum": -20.8, "type": "quantitative", "scale": {"domain": [-23.26, 48.37], "nice": false, "zero": false}},
     "y2": {"datum": 40.3}}},
   {"data": {"name": "B"}, "transform": [{"fold": ["X", "Y", "Z"], "as": ["s", "v"]}],
    "mark": {"type": "line", "strokeWidth": 7, "opacity": 0.2, "strokeJoin": "round"},
    "encoding": {
     "x": {"field": "t", "type": "quantitative", "scale": {"domain": [-34.87, 640.1], "nice": false, "zero": false}},
     "y": {"field": "v", "type": "quantitative", "scale": {"domain": [-23.26, 48.37], "nice": false, "zero": false}},
     "color": {"field": "s", "type": "nominal", "scale": {"domain": ["X", "Y", "Z"], "range": ["#5b9bd5", "#ed7d31", "#d0d0d0"]}}}},
   {"data": {"name": "B"}, "transform": [{"fold": ["X", "Y", "Z"], "as": ["s", "v"]}],
    "mark": {"type": "line", "strokeWidth": 2, "strokeJoin": "round"},
    "encoding": {
     "x": {"field": "t", "type": "quantitative", "scale": {"domain": [-34.87, 640.1], "nice": false, "zero": false}},
     "y": {"field": "v", "type": "quantitative", "scale": {"domain": [-23.26, 48.37], "nice": false, "zero": false}},
     "color": {"field": "s", "type": "nominal", "scale": {"domain": ["X", "Y", "Z"], "range": ["#5b9bd5", "#ed7d31", "#d0d0d0"]},
       "legend": {"title": null, "legendX": 210, "legendY": 26.5, "labelExpr": "datum.label + '-Axis'"}}}}
  ]},
 {"width": 615, "height": 223,
  "title": {"text": "(E) Up and Down Sensor Signal Movement", "dx": 10.5, "offset": 4},
  "layer": [
   {"data": {"values": [{}]}, "mark": {"type": "rect", "fill": "#474747"},
    "encoding": {
     "x": {"datum": -0.5, "type": "quantitative", "scale": {"domain": [-36.6, 630.4], "nice": false, "zero": false},
       "axis": {"orient": "bottom", "offset": -84.9, "zindex": 1, "labelOverlap": false, "tickCount": 300, "values": [1,17,33,49,65,81,97,113,129,145,161,177,193,209,225,241,257,273,289,305,321,337,353,369,385,401,417,433,449,465,481,497,513,529,545,561,577,593,609,625], "title": "5- Up and Down Movement", "titleX": 312, "titleY": -118.1, "titleFontSize": 16}},
     "x2": {"datum": 627},
     "y": {"datum": -61, "type": "quantitative", "scale": {"domain": [-64.8, 105.4], "nice": false, "zero": false},
       "axis": {"orient": "left", "offset": -29, "zindex": 1, "labelOverlap": false, "tickCount": 300, "values": [-60,-40,-20,0,20,40,60,80], "title": null}},
     "y2": {"datum": 80.5}}},
   {"data": {"name": "grid"}, "mark": {"type": "rule", "color": "#575757", "strokeWidth": 1},
    "encoding": {
     "x": {"field": "t", "type": "quantitative", "scale": {"domain": [-36.6, 630.4], "nice": false, "zero": false}},
     "y": {"datum": -61, "type": "quantitative", "scale": {"domain": [-64.8, 105.4], "nice": false, "zero": false}},
     "y2": {"datum": 80.5}}},
   {"data": {"name": "E"}, "transform": [{"fold": ["X", "Y", "Z"], "as": ["s", "v"]}],
    "mark": {"type": "line", "strokeWidth": 7, "opacity": 0.2, "strokeJoin": "round"},
    "encoding": {
     "x": {"field": "t", "type": "quantitative", "scale": {"domain": [-36.6, 630.4], "nice": false, "zero": false}},
     "y": {"field": "v", "type": "quantitative", "scale": {"domain": [-64.8, 105.4], "nice": false, "zero": false}},
     "color": {"field": "s", "type": "nominal", "scale": {"domain": ["X", "Y", "Z"], "range": ["#5b9bd5", "#ed7d31", "#d0d0d0"]}}}},
   {"data": {"name": "E"}, "transform": [{"fold": ["X", "Y", "Z"], "as": ["s", "v"]}],
    "mark": {"type": "line", "strokeWidth": 2, "strokeJoin": "round"},
    "encoding": {
     "x": {"field": "t", "type": "quantitative", "scale": {"domain": [-36.6, 630.4], "nice": false, "zero": false}},
     "y": {"field": "v", "type": "quantitative", "scale": {"domain": [-64.8, 105.4], "nice": false, "zero": false}},
     "color": {"field": "s", "type": "nominal", "scale": {"domain": ["X", "Y", "Z"], "range": ["#5b9bd5", "#ed7d31", "#d0d0d0"]},
       "legend": {"title": null, "legendX": 206, "legendY": 36.5, "labelFontSize": 12, "columnPadding": 6, "labelExpr": "datum.label + '-Axis'"}}}}
  ]}
 ], "spacing": 14, "bounds": "flush", "resolve": {"scale": {"color": "independent"}, "legend": {"color": "independent"}}},
{"hconcat": [
 {"width": 621, "height": 235,
  "title": {"text": "(C)\u00a0\u00a0\u00a0Idle Sensor Signal Movement", "dx": -6.5, "offset": 5, "fontSize": 22},
  "layer": [
   {"data": {"values": [{}]}, "mark": {"type": "rect", "fill": "#474747"},
    "encoding": {
     "x": {"datum": -2, "type": "quantitative", "scale": {"domain": [-35.9, 638], "nice": false, "zero": false},
       "axis": {"orient": "bottom", "offset": -38, "zindex": 1, "labelOverlap": false, "tickCount": 300, "values": [1,14,27,40,53,66,79,92,105,118,131,144,157,170,183,196,209,222,235,248,261,274,287,300,313,326,339,352,365,378,391,404,417,430,443,456,469,482,495,508,521,534,547,560,573,586,599,612,625], "title": "3- Idle (No) Movement", "titleX": 310, "titleY": -181, "titleFontSize": 13}},
     "x2": {"datum": 629},
     "y": {"datum": -2.3, "type": "quantitative", "scale": {"domain": [-2.714, 14.07], "nice": false, "zero": false},
       "axis": {"orient": "left", "offset": -28, "zindex": 1, "labelOverlap": false, "tickCount": 300, "values": [-2,0,2,4,6,8,10,12], "title": null}},
     "y2": {"datum": 12.1}}},
   {"data": {"name": "grid"}, "mark": {"type": "rule", "color": "#575757", "strokeWidth": 1},
    "encoding": {
     "x": {"field": "t", "type": "quantitative", "scale": {"domain": [-35.9, 638], "nice": false, "zero": false}},
     "y": {"datum": -2.3, "type": "quantitative", "scale": {"domain": [-2.714, 14.07], "nice": false, "zero": false}},
     "y2": {"datum": 12.1}}},
   {"data": {"name": "C"}, "transform": [{"fold": ["X", "Y", "Z"], "as": ["s", "v"]}],
    "mark": {"type": "line", "strokeWidth": 7, "opacity": 0.2, "strokeJoin": "round"},
    "encoding": {
     "x": {"field": "t", "type": "quantitative", "scale": {"domain": [-35.9, 638], "nice": false, "zero": false}},
     "y": {"field": "v", "type": "quantitative", "scale": {"domain": [-2.714, 14.07], "nice": false, "zero": false}},
     "color": {"field": "s", "type": "nominal", "scale": {"domain": ["X", "Y", "Z"], "range": ["#5b9bd5", "#ed7d31", "#d0d0d0"]}}}},
   {"data": {"name": "C"}, "transform": [{"fold": ["X", "Y", "Z"], "as": ["s", "v"]}],
    "mark": {"type": "line", "strokeWidth": 2, "strokeJoin": "round"},
    "encoding": {
     "x": {"field": "t", "type": "quantitative", "scale": {"domain": [-35.9, 638], "nice": false, "zero": false}},
     "y": {"field": "v", "type": "quantitative", "scale": {"domain": [-2.714, 14.07], "nice": false, "zero": false}},
     "color": {"field": "s", "type": "nominal", "scale": {"domain": ["X", "Y", "Z"], "range": ["#5b9bd5", "#ed7d31", "#d0d0d0"]},
       "legend": {"title": null, "legendX": 224, "legendY": 29, "labelFontSize": 10, "symbolSize": 484, "columnPadding": 5, "labelExpr": "datum.label + '-Axis'"}}}}
  ]},
 {"width": 615, "height": 235,
  "title": {"text": "(F) Snake or Wave Sensor Signal Movement", "dx": 1.5, "offset": 5, "fontSize": 22},
  "layer": [
   {"data": {"values": [{}]}, "mark": {"type": "rect", "fill": "#474747"},
    "encoding": {
     "x": {"datum": -0.5, "type": "quantitative", "scale": {"domain": [-38.1, 629.7], "nice": false, "zero": false},
       "axis": {"orient": "bottom", "offset": -86, "zindex": 1, "labelOverlap": false, "tickCount": 300, "values": [1,17,33,49,65,81,97,113,129,145,161,177,193,209,225,241,257,273,289,305,321,337,353,369,385,401,417,433,449,465,481,497,513,529,545,561,577,593,609,625], "title": "6- Snake (Wave) Movement", "titleX": 310.7, "titleY": -127, "titleFontSize": 15.5}},
     "x2": {"datum": 627},
     "y": {"datum": -41, "type": "quantitative", "scale": {"domain": [-44.1, 76.41], "nice": false, "zero": false},
       "axis": {"orient": "left", "offset": -29, "zindex": 1, "labelOverlap": false, "tickCount": 300, "values": [-40,-20,0,20,40,60], "title": null}},
     "y2": {"datum": 60.5}}},
   {"data": {"name": "grid"}, "mark": {"type": "rule", "color": "#575757", "strokeWidth": 1},
    "encoding": {
     "x": {"field": "t", "type": "quantitative", "scale": {"domain": [-38.1, 629.7], "nice": false, "zero": false}},
     "y": {"datum": -41, "type": "quantitative", "scale": {"domain": [-44.1, 76.41], "nice": false, "zero": false}},
     "y2": {"datum": 60.5}}},
   {"data": {"name": "F"}, "transform": [{"fold": ["X", "Y", "Z"], "as": ["s", "v"]}],
    "mark": {"type": "line", "strokeWidth": 7, "opacity": 0.2, "strokeJoin": "round"},
    "encoding": {
     "x": {"field": "t", "type": "quantitative", "scale": {"domain": [-38.1, 629.7], "nice": false, "zero": false}},
     "y": {"field": "v", "type": "quantitative", "scale": {"domain": [-44.1, 76.41], "nice": false, "zero": false}},
     "color": {"field": "s", "type": "nominal", "scale": {"domain": ["X", "Y", "Z"], "range": ["#5b9bd5", "#ed7d31", "#d0d0d0"]}}}},
   {"data": {"name": "F"}, "transform": [{"fold": ["X", "Y", "Z"], "as": ["s", "v"]}],
    "mark": {"type": "line", "strokeWidth": 2, "strokeJoin": "round"},
    "encoding": {
     "x": {"field": "t", "type": "quantitative", "scale": {"domain": [-38.1, 629.7], "nice": false, "zero": false}},
     "y": {"field": "v", "type": "quantitative", "scale": {"domain": [-44.1, 76.41], "nice": false, "zero": false}},
     "color": {"field": "s", "type": "nominal", "scale": {"domain": ["X", "Y", "Z"], "range": ["#5b9bd5", "#ed7d31", "#d0d0d0"]},
       "legend": {"title": null, "legendX": 205, "legendY": 35.2, "labelFontSize": 12, "columnPadding": 6, "labelExpr": "datum.label + '-Axis'"}}}}
  ]}
 ], "spacing": 14, "bounds": "flush", "resolve": {"scale": {"color": "independent"}, "legend": {"color": "independent"}}}
]
}
